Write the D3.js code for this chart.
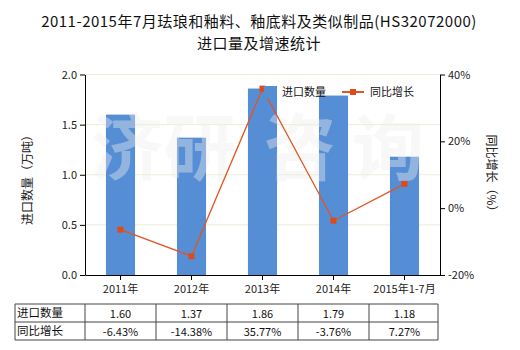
<!DOCTYPE html>
<html>
<head>
<meta charset="utf-8">
<script src="https://cdn.jsdelivr.net/npm/d3@7"></script>
<style>
  body { margin: 0; background: #fff; }
  text { font-family: "Microsoft YaHei", "Noto Sans CJK SC", sans-serif; }
</style>
</head>
<body>
<svg id="chart" width="520" height="350"></svg>
<script>
// data
const categories = ["2011年", "2012年", "2013年", "2014年", "2015年1-7月"];
const volume = [1.60, 1.37, 1.86, 1.79, 1.18];
const growth = [-6.43, -14.38, 35.77, -3.76, 7.27];
const volumeLabels = ["1.60", "1.37", "1.86", "1.79", "1.18"];
const growthLabels = ["-6.43%", "-14.38%", "35.77%", "-3.76%", "7.27%"];
const leftTicks = [0, 0.5, 1.0, 1.5, 2.0];
const rightTicks = [-20, 0, 20, 40];

const svg = d3.select("#chart");
const plotL = 85, plotR = 440, plotT = 74.5, plotB = 275;

const x = d3.scaleBand().domain(categories).range([plotL, plotR]).paddingInner(0.59).paddingOuter(0.295);
const band = d3.scaleBand().domain(categories).range([plotL, plotR]);
const y = d3.scaleLinear().domain([0, 2]).range([plotB, plotT]);
const y2 = d3.scaleLinear().domain([-20, 40]).range([plotB, plotT]);

// title
svg.append("text").attr("x", 259).attr("y", 27).attr("text-anchor", "middle")
  .style("font-size", "15px").style("letter-spacing", "0.5px").attr("fill", "#111")
  .text("2011-2015年7月珐琅和釉料、釉底料及类似制品(HS32072000)");
svg.append("text").attr("x", 259).attr("y", 49).attr("text-anchor", "middle")
  .style("font-size", "15px").style("letter-spacing", "0.5px").attr("fill", "#111")
  .text("进口量及增速统计");

// grid
svg.append("g").selectAll("line").data(leftTicks.filter(d => d > 0)).enter().append("line")
  .attr("x1", plotL).attr("x2", plotR)
  .attr("y1", d => y(d)).attr("y2", d => y(d))
  .attr("stroke", "#efecd6").attr("stroke-width", 1);

// bars
svg.append("g").selectAll("rect").data(volume).enter().append("rect")
  .attr("x", (d, i) => x(categories[i]))
  .attr("width", x.bandwidth())
  .attr("y", d => y(d))
  .attr("height", d => plotB - y(d))
  .attr("fill", "#568ed6");

// watermark
const wm = svg.append("g").attr("opacity", 0.4)
  .style("font-size", "72px").style("font-weight", "bold").attr("fill", "#eeeeee");
[["济", 127], ["研", 200], ["咨", 300], ["询", 388]].forEach(([t, cx]) => {
  wm.append("text").attr("x", cx).attr("y", 174).attr("text-anchor", "middle").text(t);
});

// line
const line = d3.line()
  .x((d, i) => band(categories[i]) + band.bandwidth() / 2)
  .y(d => y2(d));
svg.append("path").datum(growth).attr("d", line)
  .attr("fill", "none").attr("stroke", "#e0561e").attr("stroke-width", 1.3);
svg.append("g").selectAll("rect").data(growth).enter().append("rect")
  .attr("x", (d, i) => band(categories[i]) + band.bandwidth() / 2 - 3)
  .attr("y", d => y2(d) - 3)
  .attr("width", 6).attr("height", 6)
  .attr("fill", "#dd4b1a");

// axes
const axL = svg.append("g").attr("transform", `translate(${plotL},0)`)
  .call(d3.axisLeft(y).tickValues(leftTicks).tickFormat(d3.format(".1f")).tickSize(5).tickSizeOuter(0));
const axR = svg.append("g").attr("transform", `translate(${plotR},0)`)
  .call(d3.axisRight(y2).tickValues(rightTicks).tickFormat(d => d + "%").tickSize(5).tickSizeOuter(0));
const axB = svg.append("g").attr("transform", `translate(0,${plotB})`)
  .call(d3.axisBottom(band).tickSize(5).tickSizeOuter(0));
[axL, axR, axB].forEach(a => {
  a.selectAll("path, line").attr("stroke", "#000");
  a.selectAll("text").style("font-size", "11px").attr("fill", "#222")
    .style("font-family", "'Microsoft YaHei', 'Noto Sans CJK SC', sans-serif");
});
axB.selectAll("text").attr("dy", "0.9em");

// axis titles
svg.append("text").attr("transform", "translate(32,177) rotate(-90)")
  .attr("text-anchor", "middle").style("font-size", "12px").attr("fill", "#222")
  .text("进口数量（万吨）");
svg.append("text").attr("transform", "translate(487,176) rotate(90)")
  .attr("text-anchor", "middle").style("font-size", "12px").attr("fill", "#222")
  .text("同比增长（%）");

// legend
const lg = svg.append("g");
lg.append("rect").attr("x", 278).attr("y", 83).attr("width", 140).attr("height", 12).attr("fill", "#fff");
lg.append("rect").attr("x", 264).attr("y", 86).attr("width", 13).attr("height", 12).attr("fill", "#568ed6");
lg.append("text").attr("x", 282).attr("y", 96).style("font-size", "11px").attr("fill", "#111").text("进口数量");
lg.append("line").attr("x1", 342).attr("x2", 364).attr("y1", 92).attr("y2", 92)
  .attr("stroke", "#e0561e").attr("stroke-width", 2);
lg.append("rect").attr("x", 350).attr("y", 89).attr("width", 6).attr("height", 6).attr("fill", "#dd4b1a");
lg.append("text").attr("x", 370).attr("y", 96).style("font-size", "11px").attr("fill", "#111").text("同比增长");

// table
const tTop = 304, rowH = 18, tLeft = 15;
const rows = [["进口数量", volumeLabels], ["同比增长", growthLabels]];
const tb = svg.append("g");
const colEdges = [tLeft, plotL].concat(categories.map(c => band(c) + band.bandwidth()));
rows.forEach((r, ri) => {
  const ry = tTop + ri * rowH;
  tb.append("text").attr("x", tLeft + 2).attr("y", ry + 13).style("font-size", "11.5px").attr("fill", "#111").text(r[0]);
  r[1].forEach((v, i) => {
    tb.append("text").attr("x", band(categories[i]) + band.bandwidth() / 2).attr("y", ry + 14)
      .attr("text-anchor", "middle").style("font-size", "11px").attr("fill", "#111").text(v);
  });
});
[0, 1, 2].forEach(i => {
  tb.append("line").attr("x1", tLeft).attr("x2", colEdges[colEdges.length - 1] - 2)
    .attr("y1", tTop + i * rowH).attr("y2", tTop + i * rowH).attr("stroke", "#444");
});
colEdges.forEach((cx, i) => {
  const xx = i === colEdges.length - 1 ? cx - 2 : cx;
  tb.append("line").attr("x1", xx).attr("x2", xx).attr("y1", tTop).attr("y2", tTop + 2 * rowH).attr("stroke", "#444");
});
</script>
</body>
</html>
